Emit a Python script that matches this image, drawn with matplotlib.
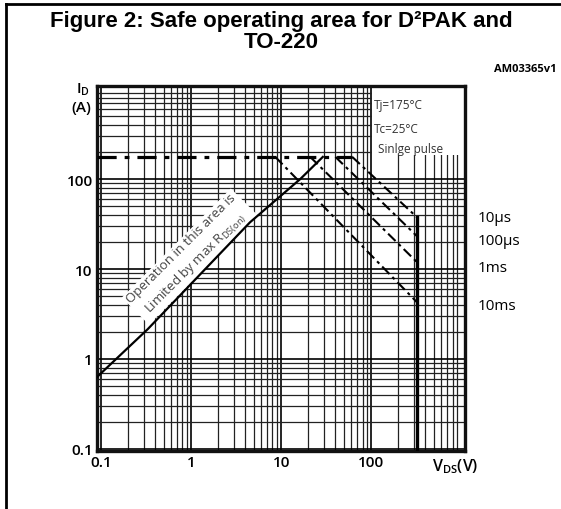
import numpy as np
import matplotlib
matplotlib.use("Agg")
import matplotlib.pyplot as plt
from matplotlib.ticker import LogLocator, FixedLocator, FixedFormatter, NullFormatter
from matplotlib.lines import Line2D

# RDS(on) limit line
vds_rds = [0.09, 0.33, 4.5, 16.3, 29.0]
id_rds = [0.63, 2.15, 33.0, 100.0, 176.0]

# maximum current and breakdown voltage
id_max = 176.0
vds_max = 320.0

# pulse limit lines: start voltage on the id_max line, end current at vds_max
pulse_names = ["10µs", "100µs", "1ms", "10ms"]
pulse_vstart = [61.5, 40.0, 21.0, 8.6]
pulse_iend = [37.8, 23.3, 12.0, 4.3]

ticks = [0.1, 1, 10, 100]
tick_labels = ["0.1", "1", "10", "100"]

plt.rcParams['font.family'] = ['Open Sans', 'DejaVu Sans']
plt.rcParams['mathtext.default'] = 'regular'

fig = plt.figure(figsize=(5.61, 5.10), dpi=100)
ax = fig.add_axes([97/561, 1 - 452/510, 368/561, 365/510])
ax.set_xscale('log')
ax.set_yscale('log')
ax.set_xlim(0.09, 1100)
ax.set_ylim(0.095, 1080)

ax.xaxis.set_major_locator(FixedLocator(ticks))
ax.xaxis.set_major_formatter(FixedFormatter(tick_labels))
ax.yaxis.set_major_locator(FixedLocator(ticks))
ax.yaxis.set_major_formatter(FixedFormatter(tick_labels))
ax.xaxis.set_minor_locator(LogLocator(base=10, subs=np.arange(2, 10), numticks=20))
ax.yaxis.set_minor_locator(LogLocator(base=10, subs=np.arange(2, 10), numticks=20))
ax.xaxis.set_minor_formatter(NullFormatter())
ax.yaxis.set_minor_formatter(NullFormatter())
ax.tick_params(which='both', length=0, labelsize=11, pad=3)
for lab in ax.get_xticklabels() + ax.get_yticklabels():
    lab.set_fontweight('semibold')

ax.grid(which='major', color='black', lw=1.2)
ax.grid(which='minor', color='#222222', lw=0.9)
ax.set_axisbelow(True)
for s in ax.spines.values():
    s.set_linewidth(2.4)
    s.set_color('#111111')

# white area behind the conditions text
ax.add_patch(plt.Rectangle((0.747, 0.81), 0.253, 0.19, transform=ax.transAxes,
                           facecolor='white', edgecolor='none', zorder=1.5))

# limits
ax.plot([0.09, pulse_vstart[0]], [id_max, id_max], color='black', lw=2.3,
        dashes=(6, 2.5, 1.5, 2.5), zorder=3)
ax.plot(vds_rds, id_rds, color='black', lw=1.6, zorder=3)
for vs, ie in zip(pulse_vstart, pulse_iend):
    ax.plot([vs, vds_max], [id_max, ie], color='black', lw=1.5,
            dashes=(5, 2, 1.5, 2), zorder=3)
ax.plot([vds_max, vds_max], [pulse_iend[0], 0.095], color='black', lw=2.4, zorder=3)

# conditions
ax.text(108, 680, "Tj=175°C", fontsize=8.5, color='#333333', va='center', zorder=4)
ax.text(108, 360, "Tc=25°C", fontsize=8.5, color='#333333', va='center', zorder=4)
ax.text(118, 221, "Sinlge pulse", fontsize=8.5, color='#333333', va='center', zorder=4)

ax.text(0.95, 14.0, "Operation in this area is\nLimited by max R$_{DS(on)}$",
        rotation=45, ha='center', va='center', fontsize=9.5, color='#444444',
        linespacing=1.45, rotation_mode='anchor', zorder=2.5,
        bbox=dict(facecolor='white', edgecolor='none', pad=2))

# pulse labels to the right of the axes
label_y = [218, 242, 268, 307]
for name, yp in zip(pulse_names, label_y):
    fig.text(478/561, 1 - yp/510, name, fontsize=11, va='center', ha='left')

fig.text(90/561, 1 - 90/510, "I$_D$", fontsize=11, fontweight='semibold', ha='right', va='center')
fig.text(91/561, 1 - 108/510, "(A)", fontsize=11, fontweight='semibold', ha='right', va='center')
fig.text(455/561, 1 - 467/510, "V$_{DS}$(V)", fontsize=11.5, fontweight='semibold',
         ha='center', va='center')

fig.text(281/561, 1 - 21/510, "Figure 2: Safe operating area for D²PAK and",
         family='Liberation Sans', fontweight='bold', fontsize=16, ha='center', va='center')
fig.text(281/561, 1 - 42/510, "TO-220",
         family='Liberation Sans', fontweight='bold', fontsize=16, ha='center', va='center')
fig.text(557/561, 1 - 70/510, "AM03365v1", fontsize=8, fontweight='bold',
         ha='right', va='center')

# page frame: left and top lines
fig.add_artist(Line2D([6/561, 6/561], [0, 1 - 5/510], color='black', lw=2,
                      transform=fig.transFigure))
fig.add_artist(Line2D([6/561, 1], [1 - 5/510, 1 - 5/510], color='black', lw=2,
                      transform=fig.transFigure))

fig.savefig("out.png", dpi=100)
